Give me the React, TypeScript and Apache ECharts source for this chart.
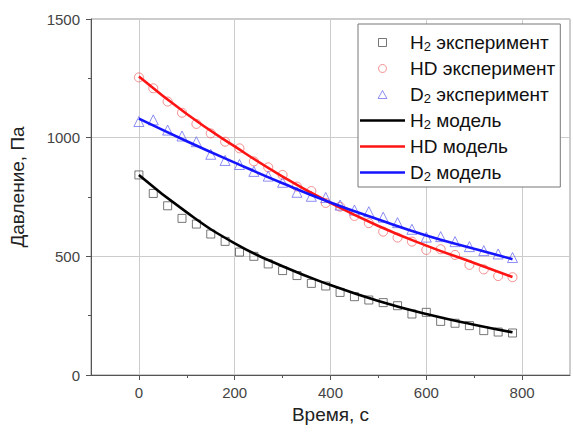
import React, { useEffect, useRef } from "react";
import * as echarts from "echarts";

const times = [0, 30, 60, 90, 120, 150, 180, 210, 240, 270, 300, 330, 360, 390, 420, 450, 480, 510, 540, 570, 600, 630, 660, 690, 720, 750, 780];
const h2Exp = [843, 765, 713, 660, 636, 594, 563, 518, 500, 468, 440, 419, 386, 375, 348, 330, 316, 305, 292, 257, 264, 226, 218, 208, 187, 181, 177];
const hdExp = [1254, 1208, 1152, 1105, 1058, 1018, 983, 955, 900, 875, 843, 794, 775, 725, 709, 670, 640, 604, 579, 562, 527, 530, 506, 464, 445, 417, 412];
const d2Exp = [1068, 1075, 1032, 1007, 983, 930, 904, 887, 858, 838, 812, 770, 753, 748, 716, 695, 688, 665, 642, 614, 581, 583, 562, 541, 524, 510, 495];

const modelTimes = [0, 100, 200, 300, 400, 500, 600, 700, 780];
const h2Model = [843, 685, 555, 458, 379, 312, 257, 212, 180];
const hdModel = [1258, 1100, 963, 836, 725, 628, 545, 472, 413];
const d2Model = [1080, 985, 895, 808, 727, 655, 588, 532, 488];

const xTickLabels = [0, 200, 400, 600, 800];
const xMinorTicks = [100, 300, 500, 700];

const FONT = "Liberation Sans, Arial, sans-serif";

const SQUARE_ICON = "path://M0,0L10,0L10,10L0,10Z";
const TRIANGLE_ICON = "path://M5,0L10,9L0,9Z";
const LINE_ICON = "path://M0,0L45,0L45,2.6L0,2.6Z";

export default function App() {
  const ref = useRef<HTMLDivElement>(null);
  useEffect(() => {
    document.body.style.margin = "0";
    const chart = echarts.init(ref.current!, null, { renderer: "svg" });
    const pair = (xs: number[], ys: number[]) => xs.map((x, i) => [x, ys[i]]);
    const scatterStyle = (c: string) => ({ color: "rgba(255,255,255,0)", borderColor: c, borderWidth: 1 });
    chart.setOption({
      animation: false,
      textStyle: { fontFamily: FONT },
      grid: { left: 88, right: 3, top: 19, bottom: 57, show: true, borderColor: "#999", borderWidth: 1 },
      legend: {
        orient: "vertical",
        left: 358,
        top: 24,
        itemWidth: 45,
        itemHeight: 8,
        itemGap: 3,
        padding: [7, 5, 3, 2],
        borderColor: "#777",
        borderWidth: 1,
        backgroundColor: "#fff",
        symbolKeepAspect: true,
        textStyle: {
          fontFamily: FONT,
          fontSize: 19,
          color: "#111",
          lineHeight: 23,
          rich: { sub: { fontFamily: FONT, fontSize: 13, lineHeight: 8, verticalAlign: "top", padding: [9, 0, 0, 0], color: "#111" } },
        },
        formatter: (name: string) => name.replace("2", "{sub|2}"),
        data: [
          { name: "H2 эксперимент", icon: SQUARE_ICON, itemStyle: scatterStyle("#555") },
          { name: "HD эксперимент", icon: "circle", itemStyle: scatterStyle("#f07070") },
          { name: "D2 эксперимент", icon: TRIANGLE_ICON, itemStyle: scatterStyle("#7070f0") },
          { name: "H2 модель", icon: LINE_ICON, itemStyle: { color: "#000", borderWidth: 0 } },
          { name: "HD модель", icon: LINE_ICON, itemStyle: { color: "#ff1414", borderWidth: 0 } },
          { name: "D2 модель", icon: LINE_ICON, itemStyle: { color: "#1414ff", borderWidth: 0 } },
        ],
      },
      xAxis: [
        {
          type: "value",
          min: -100,
          max: 900,
          interval: 100,
          name: "Время, с",
          nameLocation: "middle",
          nameGap: 29,
          nameTextStyle: { fontSize: 19, color: "#222", fontFamily: FONT },
          axisLine: { show: true, onZero: false, lineStyle: { color: "#555", width: 1 } },
          axisTick: { show: true, length: 5, customValues: xTickLabels, lineStyle: { color: "#555" } },
          axisLabel: { customValues: xTickLabels, fontSize: 15, color: "#444", margin: 10, fontFamily: FONT },
          splitLine: { show: true, lineStyle: { color: "#ccc", width: 1 } },
        },
        {
          type: "value",
          min: -100,
          max: 900,
          interval: 100,
          position: "bottom",
          axisLine: { show: false, onZero: false },
          axisTick: { show: true, length: 3, customValues: xMinorTicks, lineStyle: { color: "#555" } },
          axisLabel: { show: false },
          splitLine: { show: false },
        },
      ],
      yAxis: {
        type: "value",
        min: 0,
        max: 1500,
        interval: 500,
        name: "Давление, Па",
        nameLocation: "middle",
        nameGap: 64,
        nameTextStyle: { fontSize: 19, color: "#222", fontFamily: FONT, padding: [0, 0, 0, 20] },
        axisLine: { show: true, onZero: false, lineStyle: { color: "#555", width: 1 } },
        axisTick: { show: true, length: 5, lineStyle: { color: "#555" } },
        minorTick: { show: true, splitNumber: 2, length: 3, lineStyle: { color: "#555" } },
        axisLabel: { fontSize: 15, color: "#444", margin: 11, fontFamily: FONT, formatter: (v: number) => String(v) },
        splitLine: { show: true, lineStyle: { color: "#ccc", width: 1 } },
      },
      series: [
        { name: "H2 эксперимент", type: "scatter", symbol: "rect", symbolSize: 8, itemStyle: scatterStyle("#555"), data: pair(times, h2Exp) },
        { name: "HD эксперимент", type: "scatter", symbol: "circle", symbolSize: 9, itemStyle: scatterStyle("#f07070"), data: pair(times, hdExp) },
        { name: "D2 эксперимент", type: "scatter", symbol: "triangle", symbolSize: 10, itemStyle: scatterStyle("#7070f0"), data: pair(times, d2Exp) },
        { name: "H2 модель", type: "line", smooth: true, symbol: "none", color: "#000", lineStyle: { color: "#000", width: 2.6 }, data: pair(modelTimes, h2Model) },
        { name: "HD модель", type: "line", smooth: true, symbol: "none", color: "#ff1414", lineStyle: { color: "#ff1414", width: 2.6 }, data: pair(modelTimes, hdModel) },
        { name: "D2 модель", type: "line", smooth: true, symbol: "none", color: "#1414ff", lineStyle: { color: "#1414ff", width: 2.6 }, data: pair(modelTimes, d2Model) },
      ],
    });
    return () => chart.dispose();
  }, []);
  return <div ref={ref} style={{ width: 573, height: 432 }} />;
}
